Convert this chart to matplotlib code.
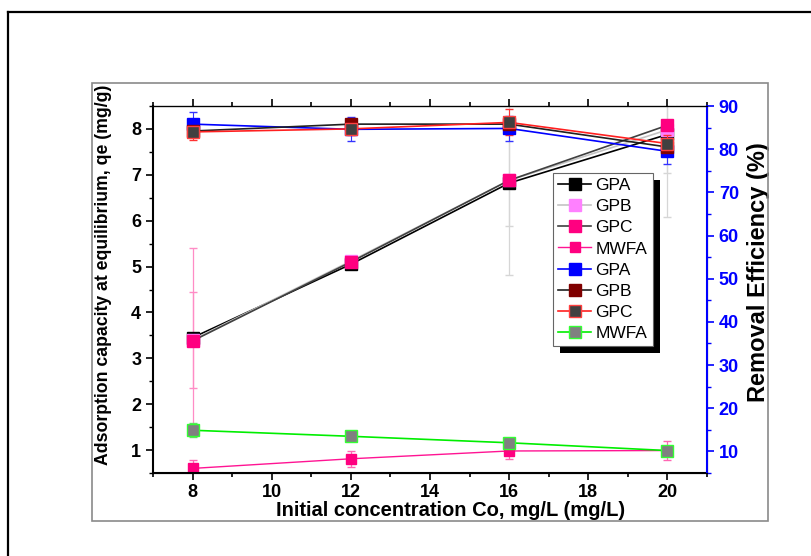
import numpy as np
import matplotlib.pyplot as plt
from matplotlib.lines import Line2D
from matplotlib.patches import Rectangle
from matplotlib.ticker import MultipleLocator

plt.rcParams['font.family'] = ['Liberation Sans', 'DejaVu Sans']

conc = [8, 12, 16, 20]

# adsorption capacity qe (mg/g), left axis
qe_gpa = [3.45, 5.05, 6.82, 7.88]
qe_gpb = [3.40, 5.12, 6.88, 7.98]
qe_gpc = [3.38, 5.10, 6.88, 8.08]
qe_mwfa = [0.60, 0.81, 0.98, 0.99]
err_gpa = [0.05, 0.05, 0.08, 0.08]
err_gpb = [1.04, 0.05, 1.00, 0.95]
err_gpc = [2.03, 0.05, 2.07, 2.00]
err_mwfa = [0.18, 0.18, 0.18, 0.20]
err_col = ['#ff8cc6', '#ff8cc6', '#d6d6d6', '#d6d6d6']

# removal efficiency (%), right axis
re_gpa = [85.8, 84.6, 84.8, 79.5]
re_gpb = [84.2, 85.8, 85.8, 80.5]
re_gpc = [84.0, 84.7, 86.2, 81.3]
re_mwfa = [14.9, 13.5, 12.0, 10.2]
rerr_gpa = [2.8, 2.8, 2.8, 3.0]
rerr_gpc = [1.8, 1.5, 3.0, 2.0]
rerr_mwfa = [1.6, 0.5, 0.8, 0.8]

fig = plt.figure(figsize=(8.11, 5.56), dpi=100)
ax = fig.add_axes([153/811, 1-473/556, 554/811, 367/556])
ax2 = ax.twinx()

# frames around the figure
fig.add_artist(Line2D([8/811, 8/811], [0, 1-12/556], color='black', lw=1.6, transform=fig.transFigure))
fig.add_artist(Line2D([8/811, 1], [1-12/556, 1-12/556], color='black', lw=1.6, transform=fig.transFigure))
fig.add_artist(Rectangle((92/811, 1-521/556), 676/811, 438/556, fill=False,
                         edgecolor='#8a8a8a', lw=1.2, transform=fig.transFigure))

# error bars, coloured point by point
for i, x in enumerate(conc):
    ax.errorbar(x, qe_gpc[i], yerr=err_gpc[i], color=err_col[i], lw=0.9, capsize=3, zorder=1)
    ax.errorbar(x, qe_gpb[i], yerr=err_gpb[i], color=err_col[i], lw=0.9, capsize=3, zorder=1)
ax.errorbar(conc, qe_gpa, yerr=err_gpa, fmt='none', ecolor='#555555', lw=0.8, capsize=3)
ax.errorbar(conc, qe_mwfa, yerr=err_mwfa, fmt='none', ecolor='#ff66b3', lw=0.9, capsize=3)

h1, = ax.plot(conc, qe_gpa, '-s', color='black', mfc='black', mec='black', ms=8, lw=1.2, label='GPA')
h2, = ax.plot(conc, qe_gpb, '-s', color='#c4c4c4', mfc='#ff80ff', mec='#ff80ff', ms=8, lw=1.2, label='GPB')
h3, = ax.plot(conc, qe_gpc, '-s', color='#404040', mfc='#ff0080', mec='#ff0080', ms=8, lw=1.2, label='GPC')
h4, = ax.plot(conc, qe_mwfa, '-s', color='#ff1493', mfc='#ff0080', mec='#ff0080', ms=6.5, lw=1.0, label='MWFA')

ax2.errorbar(conc, re_gpa, yerr=rerr_gpa, fmt='none', ecolor='#3333ff', lw=0.8, capsize=3)
ax2.errorbar(conc, re_gpc, yerr=rerr_gpc, fmt='none', ecolor='#ff3333', lw=0.8, capsize=3)
ax2.errorbar(conc, re_mwfa, yerr=rerr_mwfa, fmt='none', ecolor='#66dd66', lw=0.8, capsize=3)

h5, = ax2.plot(conc, re_gpa, '-s', color='#0000ff', mfc='#0000ff', mec='#0000ff', ms=8, lw=1.2, label='GPA')
h6, = ax2.plot(conc, re_gpb, '-s', color='#202020', mfc='#800000', mec='#800000', ms=8, lw=1.2, label='GPB')
h7, = ax2.plot(conc, re_gpc, '-s', color='#ff2020', mfc='#404040', mec='#ff4040', ms=8, lw=1.2, label='GPC')
h8, = ax2.plot(conc, re_mwfa, '-s', color='#00ee00', mfc='#808080', mec='#33ff33', ms=8, lw=1.2, label='MWFA')

ax.set_xlim(7, 21)
ax.set_ylim(0.5, 8.5)
ax2.set_ylim(5, 90)

ax.xaxis.set_major_locator(MultipleLocator(2))
ax.xaxis.set_minor_locator(MultipleLocator(1))
ax.yaxis.set_major_locator(MultipleLocator(1))
ax.yaxis.set_minor_locator(MultipleLocator(0.5))
ax2.yaxis.set_major_locator(MultipleLocator(10))
ax2.yaxis.set_minor_locator(MultipleLocator(5))

ax.tick_params(axis='x', which='both', direction='out', top=True, labelsize=13, width=1.2, pad=3)
ax.tick_params(axis='x', which='major', length=5)
ax.tick_params(axis='x', which='minor', length=3)
ax.tick_params(axis='y', which='major', direction='out', length=5, width=1.2, labelsize=13)
ax.tick_params(axis='y', which='minor', direction='out', length=3, width=1.0)
ax2.tick_params(axis='y', which='major', direction='out', length=5, width=1.2, colors='#0000ff', labelsize=13)
ax2.tick_params(axis='y', which='minor', direction='out', length=3, width=1.0, colors='#0000ff')
for lab in ax.get_xticklabels() + ax.get_yticklabels() + ax2.get_yticklabels():
    lab.set_fontweight('bold')

for s in ['left', 'bottom']:
    ax.spines[s].set_linewidth(1.5)
ax.spines['top'].set_linewidth(0.9)
ax2.spines['right'].set_color('#0000ff')
ax2.spines['right'].set_linewidth(1.5)
ax2.spines['left'].set_visible(False)

ax.set_xlabel('Initial concentration Co, mg/L (mg/L)', fontsize=14.5, fontweight='bold')
ax.xaxis.set_label_coords((451-153)/554, (473-501)/367)
ax.set_ylabel('Adsorption capacity at equilibrium, qe (mg/g)', fontsize=12.7, fontweight='bold')
ax.yaxis.set_label_coords((112-153)/554, (473-275)/367)
ax2.set_ylabel('Removal Efficiency (%)', fontsize=17, fontweight='bold')
ax2.yaxis.set_label_coords((747-153)/554, (473-272)/367)

leg = ax2.legend(handles=[h1, h2, h3, h4, h5, h6, h7, h8], loc='upper left',
                 bbox_to_anchor=((553-153)/554, (473-173)/367), borderaxespad=0,
                 fontsize=12.5, frameon=True, fancybox=False, edgecolor='#666666',
                 framealpha=1, labelspacing=0.34, handlelength=1.9, handletextpad=0.25,
                 borderpad=0.3, numpoints=1)
leg.get_frame().set_linewidth(0.8)
leg.set_zorder(6)

fig.canvas.draw()
bb = leg.get_window_extent().transformed(fig.transFigure.inverted())
dx, dy = 7/811, 7/556
ax2.add_artist(Rectangle((bb.x0 + dx, bb.y0 - dy), bb.width, bb.height, facecolor='black',
                         edgecolor='none', transform=fig.transFigure, zorder=5.5, clip_on=False))

fig.savefig('out.png', dpi=100)
